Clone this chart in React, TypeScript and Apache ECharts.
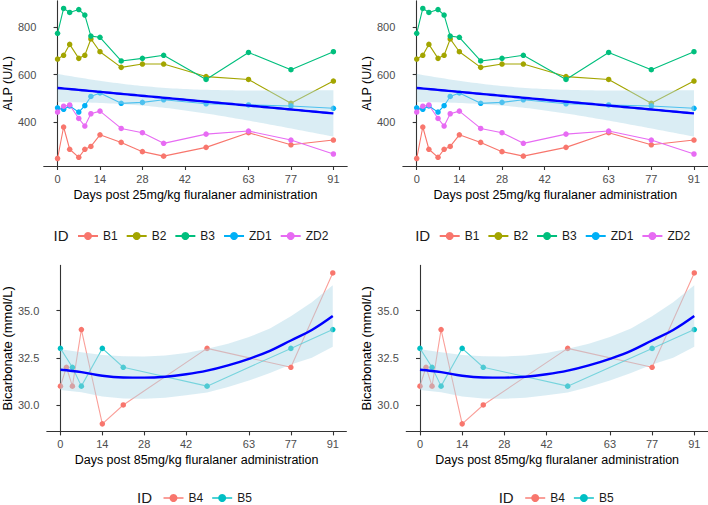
import React, { useEffect, useRef } from "react";
import * as echarts from "echarts";

// ---------- Data ----------
const alpDays = [0, 2, 4, 7, 9, 11, 14, 21, 28, 35, 49, 63, 77, 91];
const alpIds = ["B1", "B2", "B3", "ZD1", "ZD2"];
const alpB1 = [246, 379, 285, 251, 285, 297, 346, 314, 275, 256, 293, 355, 304, 324];
const alpB2 = [666, 682, 728, 669, 682, 751, 697, 631, 645, 645, 592, 580, 479, 573];
const alpB3 = [775, 880, 863, 875, 852, 763, 758, 658, 669, 682, 580, 694, 621, 697];
const alpZD1 = [460, 454, 468, 442, 469, 508, 523, 479, 483, 494, 477, 472, 468, 458];
const alpZD2 = [442, 467, 472, 415, 383, 435, 446, 373, 355, 310, 349, 362, 324, 265];
const alpValues = [alpB1, alpB2, alpB3, alpZD1, alpZD2];
const alpColors = ["#F8766D", "#A3A500", "#00BF7D", "#00B0F6", "#E76BF3"];

const bicIds = ["B4", "B5"];
const bicDaysB4 = [0, 2, 4, 7, 14, 21, 49, 77, 91];
const bicB4 = [31.0, 32.0, 31.0, 34.0, 29.0, 30.0, 33.0, 32.0, 37.0];
const bicDaysB5 = [0, 4, 7, 14, 21, 49, 77, 91];
const bicB5 = [33.0, 32.0, 31.0, 33.0, 32.0, 31.0, 33.0, 34.0];
const bicColors = ["#F8766D", "#00BFC4"];

// loess smooth
const bicFitDays = [0, 7, 14, 21, 28, 35, 42, 49, 56, 63, 70, 77, 84, 91];
const bicFit = [31.87, 31.74, 31.55, 31.46, 31.45, 31.5, 31.63, 31.82, 32.1, 32.45, 32.87, 33.42, 33.98, 34.72];
const bicUpper = [32.95, 32.8, 32.65, 32.58, 32.57, 32.62, 32.75, 32.98, 33.25, 33.6, 34.05, 34.7, 35.45, 36.35];
const bicLower = [30.79, 30.68, 30.45, 30.34, 30.33, 30.38, 30.51, 30.66, 30.95, 31.3, 31.69, 32.14, 32.51, 33.09];

const xTicks = [0, 14, 28, 42, 63, 77, 91];
const alpTicks = [400, 600, 800];
const bicTicks = [30.0, 32.5, 35.0];

const FONT = "Liberation Sans, Arial, sans-serif";
const T975 = 1.9955; // qt(0.975, 68)

function expandRange(vals: number[]) {
  const mn = Math.min(...vals);
  const mx = Math.max(...vals);
  const r = mx - mn;
  return [mn - 0.05 * r, mx + 0.05 * r];
}

function linFit(xs: number[], ys: number[]) {
  const n = xs.length;
  const mx = xs.reduce((a, b) => a + b, 0) / n;
  const my = ys.reduce((a, b) => a + b, 0) / n;
  let sxx = 0, sxy = 0;
  for (let i = 0; i < n; i++) {
    sxx += (xs[i] - mx) ** 2;
    sxy += (xs[i] - mx) * (ys[i] - my);
  }
  const b = sxy / sxx;
  const a = my - b * mx;
  let sse = 0;
  for (let i = 0; i < n; i++) sse += (ys[i] - a - b * xs[i]) ** 2;
  const s = Math.sqrt(sse / (n - 2));
  const gx: number[] = [], gf: number[] = [], gu: number[] = [], gl: number[] = [];
  const x0 = Math.min(...xs), x1 = Math.max(...xs);
  for (let k = 0; k < 80; k++) {
    const x = x0 + ((x1 - x0) * k) / 79;
    const f = a + b * x;
    const se = s * Math.sqrt(1 / n + (x - mx) ** 2 / sxx);
    gx.push(x); gf.push(f); gu.push(f + T975 * se); gl.push(f - T975 * se);
  }
  return { gx, gf, gu, gl };
}

const App: React.FC = () => {
  const ref = useRef<HTMLDivElement>(null);

  useEffect(() => {
    if (!ref.current) return;
    const chart = echarts.init(ref.current, undefined, { renderer: "svg" });

    const allX: number[] = [];
    const allY: number[] = [];
    alpValues.forEach((vals) => vals.forEach((v, i) => { allX.push(alpDays[i]); allY.push(v); }));
    const fit = linFit(allX, allY);
    const alpRange = expandRange(allY);
    const bicRange = expandRange([...bicB4, ...bicB5]);

    const grids = [
      { zero: 55, ppd: 3.058, top: 0.9, height: 165.1 },
      { zero: 416.7, ppd: 3.047, top: 0.9, height: 165.1 },
      { zero: 58.3, ppd: 3.015, top: 265.4, height: 166 },
      { zero: 420, ppd: 3.019, top: 265.4, height: 166 },
    ];
    const xMin = -4.55, xMax = 95.55;

    const gridOpt = grids.map((g) => ({
      left: g.zero + xMin * g.ppd,
      width: (xMax - xMin) * g.ppd,
      top: g.top,
      height: g.height,
      containLabel: false,
    }));

    const axisLine = { show: true, lineStyle: { color: "#333333", width: 1.1 } };

    const xAxes = grids.map((_, i) => ({
      type: "value",
      gridIndex: i,
      min: xMin,
      max: xMax,
      name: i < 2 ? "Days post 25mg/kg fluralaner administration" : "Days post 85mg/kg fluralaner administration",
      nameLocation: "middle",
      nameGap: 22,
      nameTextStyle: { fontSize: 12.5, color: "#000", fontFamily: FONT },
      axisLine,
      axisTick: { show: true, length: 4, customValues: xTicks, lineStyle: { color: "#333333", width: 1.1 } },
      axisLabel: { customValues: xTicks, fontSize: 11, color: "#4D4D4D", margin: 7, fontFamily: FONT },
      splitLine: { show: false },
    }));

    const yAxes = grids.map((_, i) => {
      const top = i < 2;
      const ticks = top ? alpTicks : bicTicks;
      return {
        type: "value",
        gridIndex: i,
        min: top ? alpRange[0] : bicRange[0],
        max: top ? alpRange[1] : bicRange[1],
        name: top ? "ALP (U/L)" : "Bicarbonate (mmol/L)",
        nameLocation: "middle",
        nameGap: top ? 19 : 29,
        nameTextStyle: { fontSize: top ? 12.5 : 13, color: "#000", fontFamily: FONT },
        axisLine,
        axisTick: { show: true, length: 4, customValues: ticks, lineStyle: { color: "#333333", width: 1.1 } },
        axisLabel: {
          customValues: ticks,
          fontSize: 11,
          color: "#4D4D4D",
          margin: 7.5,
          fontFamily: FONT,
          formatter: (v: number) => (top ? String(v) : v.toFixed(1)),
        },
        splitLine: { show: false },
      };
    });

    const series: any[] = [];
    [0, 1].forEach((g) => {
      alpIds.forEach((id, k) => {
        series.push({
          type: "line",
          name: id,
          xAxisIndex: g,
          yAxisIndex: g,
          data: alpDays.map((d, i) => [d, alpValues[k][i]]),
          color: alpColors[k],
          symbol: "circle",
          symbolSize: 5.5,
          lineStyle: { width: 1.1 },
          z: 2,
        });
      });
      series.push({
        type: "custom",
        xAxisIndex: g,
        yAxisIndex: g,
        silent: true,
        z: 3,
        data: [[fit.gx[0], fit.gf[0]]],
        renderItem: (_p: any, api: any) => {
          const pts: number[][] = [];
          for (let k = 0; k < fit.gx.length; k++) pts.push(api.coord([fit.gx[k], fit.gu[k]]));
          for (let k = fit.gx.length - 1; k >= 0; k--) pts.push(api.coord([fit.gx[k], fit.gl[k]]));
          return { type: "polygon", shape: { points: pts }, style: { fill: "#ADD8E6", opacity: 0.45 } };
        },
      });
      series.push({
        type: "line",
        name: "fit",
        xAxisIndex: g,
        yAxisIndex: g,
        data: fit.gx.map((x, k) => [x, fit.gf[k]]),
        showSymbol: false,
        color: "#0000FF",
        lineStyle: { width: 2.4, color: "#0000FF" },
        z: 4,
      });
    });

    [2, 3].forEach((g) => {
      const sets = [
        { id: "B4", days: bicDaysB4, vals: bicB4, color: bicColors[0] },
        { id: "B5", days: bicDaysB5, vals: bicB5, color: bicColors[1] },
      ];
      sets.forEach((s) => {
        series.push({
          type: "line",
          name: s.id,
          xAxisIndex: g,
          yAxisIndex: g,
          data: s.days.map((d, i) => [d, s.vals[i]]),
          color: s.color,
          symbol: "circle",
          symbolSize: 5.5,
          lineStyle: { width: 1.1, opacity: 0.7 },
          z: 2,
        });
      });
      series.push({
        type: "custom",
        xAxisIndex: g,
        yAxisIndex: g,
        silent: true,
        z: 3,
        data: [[bicFitDays[0], bicFit[0]]],
        renderItem: (_p: any, api: any) => {
          const pts: number[][] = [];
          for (let k = 0; k < bicFitDays.length; k++) pts.push(api.coord([bicFitDays[k], bicUpper[k]]));
          for (let k = bicFitDays.length - 1; k >= 0; k--) pts.push(api.coord([bicFitDays[k], bicLower[k]]));
          return { type: "polygon", shape: { points: pts }, style: { fill: "#ADD8E6", opacity: 0.45 } };
        },
      });
      series.push({
        type: "line",
        name: "smooth",
        xAxisIndex: g,
        yAxisIndex: g,
        data: bicFitDays.map((x, k) => [x, bicFit[k]]),
        showSymbol: false,
        smooth: 0.4,
        color: "#0000FF",
        lineStyle: { width: 2.4, color: "#0000FF" },
        z: 4,
      });
    });

    const legendBase = {
      orient: "horizontal",
      padding: 0,
      itemWidth: 20,
      itemHeight: 10,
      itemGap: 8,
      textStyle: { fontSize: 12, lineHeight: 12, color: "#1A1A1A", fontFamily: FONT },
      selectedMode: false,
    };
    const shift = 361.7;
    const legends = [
      { ...legendBase, data: alpIds, left: 77, top: 230 },
      { ...legendBase, data: alpIds, left: 77 + shift, top: 230 },
      { ...legendBase, data: bicIds, left: 162.5, top: 492 },
      { ...legendBase, data: bicIds, left: 162.5 + shift, top: 492 },
    ];

    const idText = (x: number, y: number) => ({
      type: "text",
      left: x,
      top: y,
      style: { text: "ID", fontSize: 15, lineHeight: 15, fill: "#1A1A1A", fontFamily: FONT },
    });

    chart.setOption({
      animation: false,
      backgroundColor: "#fff",
      grid: gridOpt,
      xAxis: xAxes,
      yAxis: yAxes,
      legend: legends,
      series,
      graphic: [idText(53.5, 228), idText(53.5 + shift, 228), idText(137, 489.5), idText(137 + shift, 489.5)],
    });

    return () => chart.dispose();
  }, []);

  return <div ref={ref} style={{ position: "fixed", left: 0, top: 0, width: 708, height: 505 }} />;
};

export default App;
